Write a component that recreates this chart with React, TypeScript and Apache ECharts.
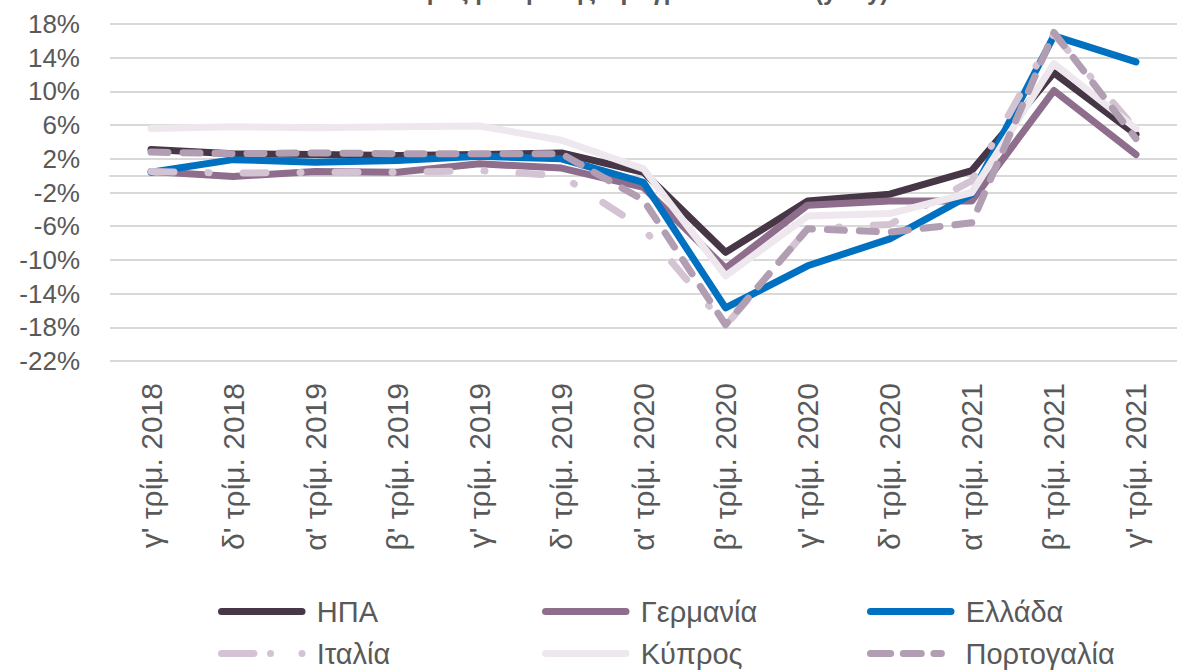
import React, { useEffect, useRef } from "react";
import * as echarts from "echarts";

const categories = [
  "γ' τρίμ. 2018", "δ' τρίμ. 2018", "α' τρίμ. 2019", "β' τρίμ. 2019",
  "γ' τρίμ. 2019", "δ' τρίμ. 2019", "α' τρίμ. 2020", "β' τρίμ. 2020",
  "γ' τρίμ. 2020", "δ' τρίμ. 2020", "α' τρίμ. 2021", "β' τρίμ. 2021",
  "γ' τρίμ. 2021",
];

const usa = [3.1, 2.6, 2.5, 2.4, 2.5, 2.7, 0.4, -9.1, -3.0, -2.2, 0.6, 12.2, 4.9];
const germany = [0.5, -0.1, 0.5, 0.4, 1.4, 0.9, -1.4, -11.0, -3.5, -3.0, -3.0, 10.1, 2.5];
const greece = [0.4, 1.9, 1.6, 1.8, 2.3, 2.0, -0.8, -15.7, -10.7, -7.5, -2.2, 16.6, 13.5];
const italy = [0.5, 0.3, 0.4, 0.4, 0.6, 0.0, -6.3, -17.8, -6.3, -5.8, -0.6, 16.8, 5.5];
const cyprus = [5.6, 5.8, 5.7, 5.8, 5.9, 4.2, 0.8, -11.9, -4.8, -4.5, -2.0, 13.3, 5.6];
const portugal = [2.8, 2.6, 2.7, 2.6, 2.6, 2.6, -2.9, -17.7, -6.3, -6.7, -5.6, 17.0, 4.4];

const seriesNames = ["ΗΠΑ", "Γερμανία", "Ελλάδα", "Ιταλία", "Κύπρος", "Πορτογαλία"];
const seriesData = [usa, germany, greece, italy, cyprus, portugal];
const seriesColors = ["#463646", "#8E6E8C", "#0070C0", "#D3C3D3", "#EEE8EE", "#B19EB3"];
const seriesDash: any[] = ["solid", "solid", "solid", [23, 34, 1, 34], "solid", [17, 15]];

const yMin = -22;
const yMax = 18;
const yStep = 4;

const titleText = "Ρυθμός μεταβολής πραγματικού ΑΕΠ (y-o-y)";

const FONT = "'Liberation Sans', Arial, sans-serif";
const TEXT = "#595959";

const ICON_SOLID = "path://M4,0L96,0A4,4,0,0,1,96,8L4,8A4,4,0,0,1,4,0Z";
const ICON_ITALY =
  "path://M4,0L41,0A4,4,0,0,1,41,8L4,8A4,4,0,0,1,4,0Z" +
  "M56,4A4,4,0,1,1,64,4A4,4,0,1,1,56,4Z" +
  "M92,4A4,4,0,1,1,100,4A4,4,0,1,1,92,4Z";
const ICON_PORT =
  "path://M4,0L27,0A4,4,0,0,1,27,8L4,8A4,4,0,0,1,4,0Z" +
  "M41.5,0L62,0A4,4,0,0,1,62,8L41.5,8A4,4,0,0,1,41.5,0Z" +
  "M76.5,0L85,0A4,4,0,0,1,85,8L76.5,8A4,4,0,0,1,76.5,0Z";

export default function App() {
  const ref = useRef<HTMLDivElement>(null);
  useEffect(() => {
    if (!ref.current) return;
    const chart = echarts.init(ref.current, undefined, { renderer: "svg" });
    const legendCfg = [
      { left: 218, top: 597, icon: ICON_SOLID, w: 100, pad: 0 },
      { left: 542, top: 597, icon: ICON_SOLID, w: 100, pad: 0 },
      { left: 867, top: 597, icon: ICON_SOLID, w: 100, pad: 0 },
      { left: 218, top: 639, icon: ICON_ITALY, w: 100, pad: 0 },
      { left: 542, top: 639, icon: ICON_SOLID, w: 100, pad: 0 },
      { left: 867, top: 639, icon: ICON_PORT, w: 89, pad: 10 },
    ];
    chart.setOption({
      animation: false,
      backgroundColor: "#ffffff",
      textStyle: { fontFamily: FONT },
      graphic: [
        {
          type: "text",
          x: 636,
          y: -9,
          style: {
            text: titleText,
            font: "bold 24px " + FONT,
            fill: TEXT,
            align: "center",
            verticalAlign: "middle",
          },
        },
      ],
      grid: { left: 110, top: 24, width: 1078, height: 337, containLabel: false },
      legend: seriesNames.map((n, i) => ({
        data: [{ name: n, icon: legendCfg[i].icon }],
        left: legendCfg[i].left,
        top: legendCfg[i].top,
        itemWidth: legendCfg[i].w,
        itemHeight: 7,
        itemGap: 0,
        padding: 0,
        textStyle: {
          fontSize: 29,
          color: TEXT,
          fontFamily: FONT,
          padding: [0, 0, 0, legendCfg[i].pad],
        },
        selectedMode: false,
      })),
      xAxis: [
        {
          type: "category",
          data: categories,
          position: "bottom",
          boundaryGap: true,
          axisLine: { show: false, onZero: false },
          axisTick: { show: false },
          axisLabel: {
            rotate: 90,
            margin: 22,
            fontSize: 30,
            color: TEXT,
            fontFamily: FONT,
            interval: 0,
          },
          splitLine: { show: false },
        },
        {
          type: "category",
          data: categories,
          position: "top",
          boundaryGap: true,
          axisLine: { show: true, onZero: true, lineStyle: { color: "#D9D9D9", width: 2 } },
          axisTick: { show: false },
          axisLabel: { show: false },
          splitLine: { show: false },
        },
      ],
      yAxis: {
        type: "value",
        min: yMin,
        max: yMax,
        interval: yStep,
        axisLine: { show: false },
        axisTick: { show: false },
        axisLabel: {
          margin: 30,
          fontSize: 26,
          color: TEXT,
          fontFamily: FONT,
          formatter: (v: number) => Math.round(v) + "%",
        },
        splitLine: { show: true, lineStyle: { color: "#D9D9D9", width: 2 } },
      },
      series: seriesNames.map((n, i) => ({
        name: n,
        type: "line",
        data: seriesData[i],
        xAxisIndex: 0,
        symbol: "none",
        showSymbol: false,
        color: seriesColors[i],
        lineStyle: {
          color: seriesColors[i],
          width: 7,
          type: seriesDash[i],
          cap: "round",
          join: "round",
        },
      })),
    });
    return () => chart.dispose();
  }, []);
  return (
    <div
      ref={ref}
      style={{ position: "fixed", left: 0, top: 0, width: 1177, height: 670 }}
    />
  );
}
